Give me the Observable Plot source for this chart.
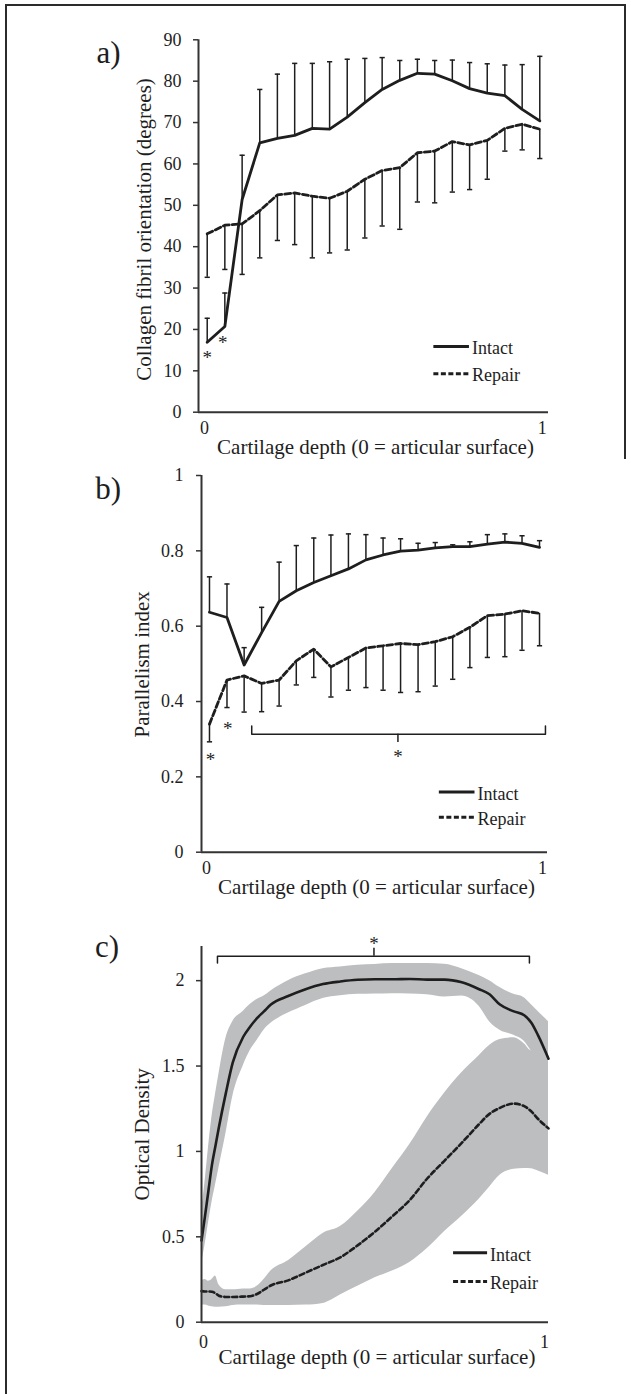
<!DOCTYPE html>
<html><head><meta charset="utf-8">
<script src="https://cdn.jsdelivr.net/npm/d3@7"></script>
<script src="https://cdn.jsdelivr.net/npm/@observablehq/plot@0.6"></script>
<style>
body{margin:0;background:#fff;}
#page{position:relative;width:631px;height:1394px;overflow:hidden;background:#fff;}
#page svg{position:absolute;left:0;}
.border{position:absolute;background:#2b2b2b;}
</style></head><body>
<div id="page">
<div class="border" style="left:5px;top:4px;width:621px;height:2px"></div>
<div class="border" style="left:5px;top:4px;width:2px;height:1390px"></div>
<div class="border" style="left:624px;top:4px;width:2px;height:455px"></div>
</div>
<script>
// ---------- DATA ----------
const seriesNames = ["Intact", "Repair"];
const xTickLabels = ["0", "1"];
const xTitle = "Cartilage depth (0 = articular surface)";

// Panels a & b: 20 depth bins
const depthAB = [0, 0.053, 0.105, 0.158, 0.211, 0.263, 0.316, 0.368, 0.421, 0.474, 0.526, 0.579, 0.632, 0.684, 0.737, 0.789, 0.842, 0.895, 0.947, 1];

// a) Collagen fibril orientation (degrees)
const aIntact   = [16.9, 20.7, 51.4, 65.1, 66.2, 66.9, 68.6, 68.4, 71.3, 74.8, 78.0, 80.2, 81.9, 81.7, 80.1, 78.2, 77.1, 76.5, 73.2, 70.4];
const aIntactUp = [22.7, 28.8, 62.1, 78.0, 81.7, 84.3, 84.3, 84.7, 85.3, 85.5, 85.7, 85.0, 85.3, 85.0, 85.1, 84.5, 84.2, 83.9, 84.0, 86.0];
const aRepair   = [43.1, 45.2, 45.5, 48.7, 52.5, 53.0, 52.2, 51.7, 53.4, 56.3, 58.4, 59.1, 62.7, 63.1, 65.4, 64.6, 65.7, 68.6, 69.6, 68.4];
const aRepairLo = [32.6, 34.5, 33.3, 37.3, 41.5, 40.5, 37.3, 38.5, 39.2, 42.1, 45.0, 44.2, 50.8, 50.6, 53.2, 53.8, 56.3, 63.1, 63.4, 61.3];
const aYTicks = [0, 10, 20, 30, 40, 50, 60, 70, 80, 90];
const aStars = [{x: 0, y: 13.9}, {x: 0.047, y: 17.5}];

// b) Parallelism index
const bIntact   = [0.637, 0.623, 0.497, 0.583, 0.666, 0.694, 0.716, 0.734, 0.752, 0.776, 0.789, 0.799, 0.802, 0.808, 0.811, 0.811, 0.818, 0.823, 0.820, 0.809];
const bIntactUp = [0.731, 0.712, 0.543, 0.650, 0.770, 0.814, 0.834, 0.842, 0.845, 0.843, 0.834, 0.832, 0.820, 0.822, 0.816, 0.824, 0.843, 0.845, 0.840, 0.827];
const bRepair   = [0.340, 0.457, 0.468, 0.448, 0.457, 0.508, 0.539, 0.492, 0.517, 0.542, 0.548, 0.554, 0.551, 0.559, 0.572, 0.597, 0.628, 0.632, 0.641, 0.634];
const bRepairLo = [0.293, 0.384, 0.372, 0.373, 0.388, 0.444, 0.464, 0.412, 0.430, 0.437, 0.430, 0.424, 0.426, 0.441, 0.459, 0.490, 0.517, 0.519, 0.536, 0.548];
const bYTicks = [0, 0.2, 0.4, 0.6, 0.8, 1];
const bStars = [{x: 0.003, y: 0.253}, {x: 0.055, y: 0.335}, {x: 0.571, y: 0.26}];
const bBracket = [{x: 0.128, y: 0.335}, {x: 0.128, y: 0.313}, {x: 1.018, y: 0.313}, {x: 1.018, y: 0.335}];
const bBracketTip = [{x: 0.571, y1: 0.313, y2: 0.291}];

// c) Optical density (mean and SD band)
const depthC   = [0, 0.01, 0.02, 0.03, 0.04, 0.05, 0.07, 0.09, 0.12, 0.14, 0.16, 0.18, 0.2, 0.25, 0.3, 0.35, 0.4, 0.45, 0.5, 0.55, 0.6, 0.65, 0.7, 0.75, 0.8, 0.83, 0.86, 0.9, 0.93, 0.95, 0.97, 1.0];
const cIntact   = [0.478, 0.62, 0.77, 0.92, 1.03, 1.14, 1.34, 1.52, 1.67, 1.73, 1.78, 1.82, 1.86, 1.91, 1.95, 1.98, 1.995, 2.005, 2.008, 2.008, 2.01, 2.006, 2.006, 1.99, 1.95, 1.92, 1.86, 1.82, 1.797, 1.755, 1.68, 1.543];
const cIntactUp = [0.65, 0.82, 1.02, 1.2, 1.33, 1.45, 1.66, 1.76, 1.82, 1.86, 1.89, 1.91, 1.94, 2.0, 2.04, 2.07, 2.08, 2.09, 2.095, 2.10, 2.10, 2.10, 2.096, 2.07, 2.03, 2.0, 1.96, 1.92, 1.9, 1.86, 1.82, 1.76];
const cIntactLo = [0.34, 0.45, 0.58, 0.70, 0.80, 0.90, 1.10, 1.32, 1.50, 1.59, 1.65, 1.71, 1.75, 1.81, 1.855, 1.895, 1.912, 1.92, 1.922, 1.924, 1.922, 1.918, 1.905, 1.91, 1.85, 1.76, 1.71, 1.68, 1.645, 1.59, 1.55, 1.50];
const cRepair   = [0.182, 0.18, 0.18, 0.178, 0.17, 0.155, 0.148, 0.148, 0.15, 0.152, 0.165, 0.19, 0.215, 0.245, 0.29, 0.335, 0.38, 0.45, 0.53, 0.62, 0.715, 0.84, 0.945, 1.05, 1.16, 1.22, 1.255, 1.28, 1.265, 1.235, 1.19, 1.135];
const cRepairUp = [0.24, 0.25, 0.24, 0.25, 0.27, 0.22, 0.19, 0.19, 0.195, 0.195, 0.21, 0.25, 0.30, 0.36, 0.44, 0.52, 0.56, 0.65, 0.76, 0.90, 1.04, 1.20, 1.34, 1.46, 1.56, 1.62, 1.655, 1.665, 1.63, 1.59, 1.62, 1.60];
const cRepairLo = [0.10, 0.10, 0.095, 0.09, 0.088, 0.088, 0.09, 0.098, 0.10, 0.10, 0.10, 0.098, 0.098, 0.098, 0.10, 0.11, 0.16, 0.21, 0.26, 0.30, 0.35, 0.43, 0.53, 0.62, 0.72, 0.79, 0.86, 0.895, 0.90, 0.898, 0.885, 0.86];
const cYTicks = [0, 0.5, 1, 1.5, 2];
const cStars = [{x: 0.497, y: 2.232}];
const cBracket = [{x: 0.046, y: 2.103}, {x: 0.046, y: 2.143}, {x: 0.945, y: 2.143}, {x: 0.945, y: 2.103}];
const cBracketTip = [{x: 0.497, y1: 2.143, y2: 2.19}];

// legend anchor positions (data units)
const legendA = {x1: 0.68, x2: 0.787, y: [15.9, 9.3]};
const legendB = {x1: 0.695, x2: 0.803, y: [0.16, 0.093]};
const legendC = {x1: 0.725, x2: 0.823, y: [0.406, 0.238]};

// ---------- STYLE ----------
const FONT = "Liberation Serif";
const INK = "#1e1e1e";
const BAND = "#bdbec0";
const DASH = "6 3";
const capSymbol = {draw(ctx, size) { const w = Math.sqrt(size / Math.PI); ctx.moveTo(-w, 0); ctx.lineTo(w, 0); }};

const rowsA = depthAB.map((x, i) => ({x, intact: aIntact[i], up: aIntactUp[i], repair: aRepair[i], lo: aRepairLo[i]}));
const rowsB = depthAB.map((x, i) => ({x, intact: bIntact[i], up: bIntactUp[i], repair: bRepair[i], lo: bRepairLo[i]}));
const rowsC = depthC.map((x, i) => ({x, intact: cIntact[i], iUp: cIntactUp[i], iLo: cIntactLo[i], repair: cRepair[i], rUp: cRepairUp[i], rLo: cRepairLo[i]}));

function legendMarks(L) {
  const rows = seriesNames.map((name, i) => ({name, y: L.y[i], x1: L.x1, x2: L.x2, dash: i === 1}));
  return [
    Plot.link(rows.filter(d => !d.dash), {x1: "x1", x2: "x2", y1: "y", y2: "y", stroke: INK, strokeWidth: 3}),
    Plot.link(rows.filter(d => d.dash), {x1: "x1", x2: "x2", y1: "y", y2: "y", stroke: INK, strokeWidth: 3, strokeDasharray: "5 2.5"}),
    Plot.text(rows, {x: "x2", y: "y", text: "name", textAnchor: "start", lineAnchor: "middle", dx: 3, dy: 2, fontSize: 18, fill: INK})
  ];
}

function frameMarks(o) {
  return [
    Plot.ruleY([0], {stroke: "#333", strokeWidth: 2}),
    Plot.ruleX([o.xDomain[0]], {stroke: "#333", strokeWidth: 2}),
    Plot.axisY({ticks: o.yTicks, tickSize: 5, tickPadding: o.tickPad, fontSize: 18, label: null, stroke: "#333", strokeWidth: 1.5, fill: INK, tickFormat: d => String(d)}),
    Plot.text([0], {x: d => d, text: () => xTickLabels[0], frameAnchor: "bottom", lineAnchor: "middle", dy: o.xlDy, dx: o.xl0dx, fontSize: 18, fill: INK}),
    Plot.text([1], {x: d => d, text: () => xTickLabels[1], frameAnchor: "bottom", lineAnchor: "middle", dy: o.xlDy, dx: o.xl1dx, fontSize: 18, fill: INK}),
    Plot.text([xTitle], {text: d => d, frameAnchor: "bottom", textAnchor: "middle", lineAnchor: "middle", dy: 35, dx: 2, fontSize: 21, fill: INK}),
    Plot.text([o.ylabel], {text: d => d, frameAnchor: "left", textAnchor: "middle", lineAnchor: "middle", rotate: -90, dx: o.ylDx, dy: o.ylDy, fontSize: 21, fill: INK}),
    Plot.text([o.tag], {text: d => d, frameAnchor: "top-left", textAnchor: "middle", lineAnchor: "middle", dx: o.tagDx, dy: o.tagDy, fontSize: 31, fill: INK})
  ];
}

function make(o, marks) {
  const svg = Plot.plot({
    width: 631, height: o.height,
    marginLeft: o.ml, marginRight: o.mr, marginTop: o.mt, marginBottom: o.mb,
    x: {domain: o.xDomain, axis: null},
    y: {domain: o.yDomain, axis: null},
    style: {fontFamily: FONT, fontSize: "18px", color: INK, background: "transparent", overflow: "visible"},
    marks: [...marks, ...frameMarks(o)]
  });
  svg.style.top = o.top + "px";
  document.getElementById("page").appendChild(svg);
}

const starMarks = (stars) => Plot.text(stars, {x: "x", y: "y", text: () => "*", fontSize: 19, fill: INK, lineAnchor: "middle", dy: 3});

// ---------- PANEL A ----------
const oA = {top: 0, height: 460, mt: 39.3, mb: 48.3, ml: 198, mr: 83, xDomain: [-0.0262, 1.0262], yDomain: [0, 90], yTicks: aYTicks, tickPad: 12,
  xlDy: 16, xl0dx: -2.7, xl1dx: 2.4, ylabel: "Collagen fibril orientation (degrees)", ylDx: -54, ylDy: 3.5, tag: "a)", tagDx: -90, tagDy: 13};
make(oA, [
  Plot.ruleX(rowsA, {x: "x", y1: "intact", y2: "up", stroke: INK, strokeWidth: 1.5}),
  Plot.dot(rowsA, {x: "x", y: "up", symbol: capSymbol, r: 2.6, stroke: INK, strokeWidth: 1.5, fill: "none"}),
  Plot.ruleX(rowsA, {x: "x", y1: "repair", y2: "lo", stroke: INK, strokeWidth: 1.5}),
  Plot.dot(rowsA, {x: "x", y: "lo", symbol: capSymbol, r: 2.6, stroke: INK, strokeWidth: 1.5, fill: "none"}),
  Plot.line(rowsA, {x: "x", y: "intact", stroke: INK, strokeWidth: 2.8}),
  Plot.line(rowsA, {x: "x", y: "repair", stroke: INK, strokeWidth: 2.8, strokeDasharray: DASH}),
  starMarks(aStars),
  ...legendMarks(legendA)
]);

// ---------- PANEL B ----------
const oB = {top: 460, height: 440, mt: 15, mb: 48.3, ml: 201, mr: 84, xDomain: [-0.0242, 1.0242], yDomain: [0, 1], yTicks: bYTicks, tickPad: 13,
  xlDy: 16, xl0dx: -3, xl1dx: 3, ylabel: "Parallelism index", ylDx: -59.4, ylDy: 0.5, tag: "b)", tagDx: -93.4, tagDy: 14};
make(oB, [
  Plot.ruleX(rowsB, {x: "x", y1: "intact", y2: "up", stroke: INK, strokeWidth: 1.5}),
  Plot.dot(rowsB, {x: "x", y: "up", symbol: capSymbol, r: 2.6, stroke: INK, strokeWidth: 1.5, fill: "none"}),
  Plot.ruleX(rowsB, {x: "x", y1: "repair", y2: "lo", stroke: INK, strokeWidth: 1.5}),
  Plot.dot(rowsB, {x: "x", y: "lo", symbol: capSymbol, r: 2.6, stroke: INK, strokeWidth: 1.5, fill: "none"}),
  Plot.line(rowsB, {x: "x", y: "intact", stroke: INK, strokeWidth: 2.8}),
  Plot.line(rowsB, {x: "x", y: "repair", stroke: INK, strokeWidth: 2.8, strokeDasharray: DASH}),
  Plot.line(bBracket, {x: "x", y: "y", stroke: INK, strokeWidth: 1.5}),
  Plot.ruleX(bBracketTip, {x: "x", y1: "y1", y2: "y2", stroke: INK, strokeWidth: 1.5}),
  starMarks(bStars),
  ...legendMarks(legendB)
]);

// ---------- PANEL C ----------
const oC = {top: 900, height: 494, mt: 46, mb: 72.3, ml: 201, mr: 83, xDomain: [0, 1], yDomain: [0, 2.2], yTicks: cYTicks, tickPad: 12,
  xlDy: 20, xl0dx: 2, xl1dx: -4, ylabel: "Optical Density", ylDx: -59.4, ylDy: 0, tag: "c)", tagDx: -94.5, tagDy: 0.5};
make(oC, [
  Plot.areaY(rowsC, {x: "x", y1: "iLo", y2: "iUp", fill: BAND, curve: "monotone-x"}),
  Plot.areaY(rowsC, {x: "x", y1: "rLo", y2: "rUp", fill: BAND, curve: "monotone-x"}),
  Plot.line(rowsC, {x: "x", y: "intact", stroke: INK, strokeWidth: 2.6, curve: "monotone-x"}),
  Plot.line(rowsC, {x: "x", y: "repair", stroke: INK, strokeWidth: 2.6, strokeDasharray: "5 3", curve: "monotone-x"}),
  Plot.line(cBracket, {x: "x", y: "y", stroke: INK, strokeWidth: 1.5}),
  Plot.ruleX(cBracketTip, {x: "x", y1: "y1", y2: "y2", stroke: INK, strokeWidth: 1.5}),
  starMarks(cStars),
  ...legendMarks(legendC)
]);
</script>
</body></html>
